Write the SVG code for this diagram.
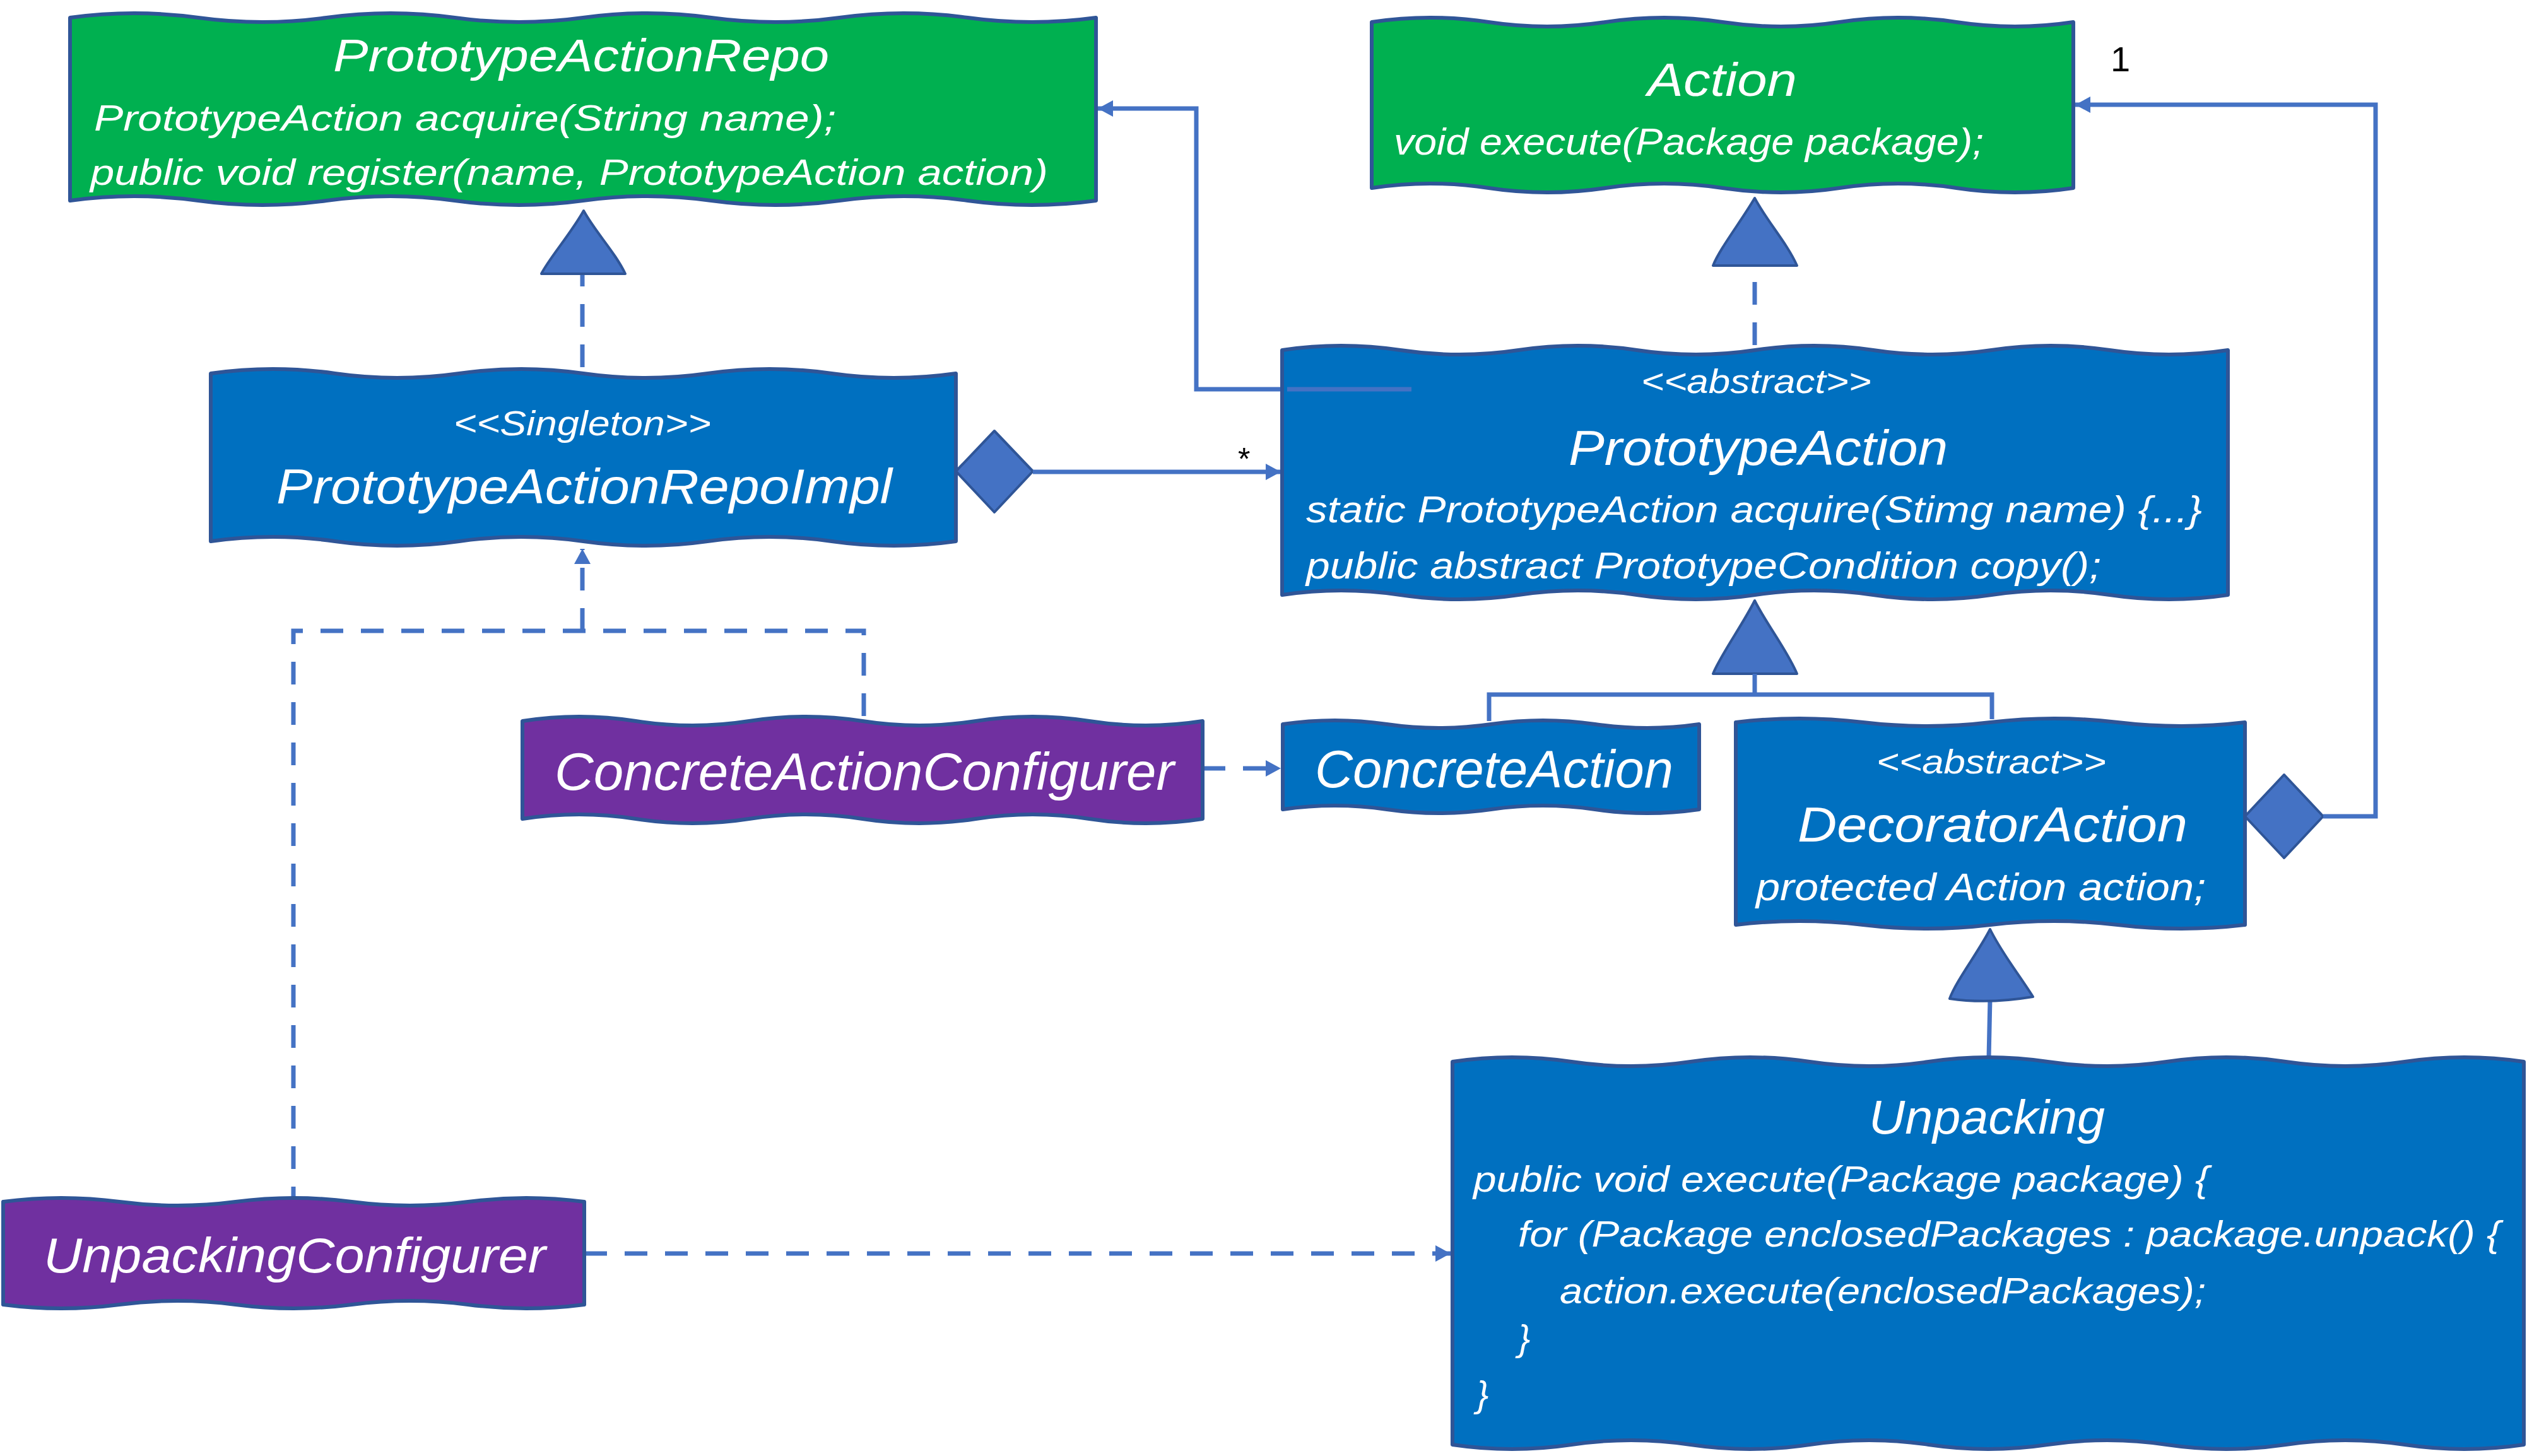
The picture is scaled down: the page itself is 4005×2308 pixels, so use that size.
<svg xmlns="http://www.w3.org/2000/svg" width="4005" height="2308" viewBox="0 0 4005 2308">
<style>
.box{stroke:#2F5597;stroke-width:6;stroke-linejoin:round}
.g{fill:#00B050}.b{fill:#0070C0}.p{fill:#7030A0}
.t{fill:#fff;font-family:"Liberation Sans",Arial,sans-serif;font-style:italic}
.lbl{fill:#000;font-family:"Liberation Sans",Arial,sans-serif}
.ln{fill:none;stroke:#4472C4;stroke-width:7}
.dash{stroke-dasharray:36 28}
.head{fill:#4472C4;stroke:#2F5597;stroke-width:4;stroke-linejoin:round}
</style>
<defs>
<marker id="arr" markerUnits="userSpaceOnUse" markerWidth="26" markerHeight="28" refX="24" refY="14" orient="auto">
<path d="M0,1 L24,14 L0,27 Z" fill="#4472C4"/>
</marker>
</defs>
<g id="connectors">
<path class="ln" d="M2237 617 L1896 617 L1896 172 L1740 172" marker-end="url(#arr)"/>
<path class="ln dash" d="M923 582 L923 434"/>
<path class="head" d="M925 334 C905 370 870 410 858 434 L991 434 C975 400 945 370 925 334 Z"/>
<polygon class="head" points="1515,747 1576,683 1637,747 1576,812"/>
<path class="ln" d="M1637 748 L2030 748" marker-end="url(#arr)"/>
<text class="lbl" x="1962" y="745" font-size="50">*</text>
<path class="ln dash" d="M2781 547 L2781 421"/>
<path class="head" d="M2781 314 C2760 350 2725 395 2715 421 L2848 421 C2832 385 2800 350 2781 314 Z"/>
<path class="head" d="M2781 952 C2762 990 2726 1040 2715 1068 L2848 1068 C2832 1030 2800 990 2781 952 Z"/>
<path class="ln" d="M2781 1068 L2781 1101 M2360 1143 L2360 1101 L3157 1101 L3157 1140"/>
<polygon class="head" points="3558,1294 3620,1228 3682,1294 3620,1360"/>
<path class="ln" d="M3682 1294 L3765 1294 L3765 166 L3289 166" marker-end="url(#arr)"/>
<text class="lbl" x="3345" y="113" font-size="56">1</text>
<path class="ln dash" d="M1906 1218 L2030 1218" stroke-dasharray="30 20" stroke-width="9" marker-end="url(#arr)"/>
<path class="ln dash" d="M1369 1135 L1369 1000 L465 1000 L465 1900"/>
<path class="ln dash" d="M923 1000 L923 870" marker-end="url(#arr)"/>
<path class="ln dash" d="M926 1987 L2299 1987" stroke-dasharray="34 30" stroke-width="9" marker-end="url(#arr)"/>
<path class="ln" d="M3152 1677 L3154 1583"/>
<path class="head" d="M3154 1473 C3135 1510 3100 1555 3090 1583 Q3150 1592 3222 1580 C3200 1545 3172 1510 3154 1473 Z"/>
</g>
<g id="node-repo">
<path class="box g" d="M111 28 q101.6 -14 203.25 0 t203.25 0 t203.25 0 t203.25 0 t203.25 0 t203.25 0 t203.25 0 t203.25 0 L1737 318 q-101.6 14 -203.25 0 t-203.25 0 t-203.25 0 t-203.25 0 t-203.25 0 t-203.25 0 t-203.25 0 t-203.25 0 Z"/>
<text class="t" x="528" y="113" font-size="72" textLength="786" lengthAdjust="spacingAndGlyphs">PrototypeActionRepo</text>
<text class="t" x="149" y="207" font-size="58" textLength="1176" lengthAdjust="spacingAndGlyphs">PrototypeAction acquire(String name);</text>
<text class="t" x="143" y="293" font-size="58" textLength="1518" lengthAdjust="spacingAndGlyphs">public void register(name, PrototypeAction action)</text>
</g>
<g id="node-action">
<path class="box g" d="M2174 35 q92.67 -14 185.33 0 t185.33 0 t185.33 0 t185.33 0 t185.33 0 t185.33 0 L3286 298 q-92.67 14 -185.33 0 t-185.33 0 t-185.33 0 t-185.33 0 t-185.33 0 t-185.33 0 Z"/>
<text class="t" x="2611" y="152" font-size="74" textLength="237" lengthAdjust="spacingAndGlyphs">Action</text>
<text class="t" x="2209" y="245" font-size="60" textLength="935" lengthAdjust="spacingAndGlyphs">void execute(Package package);</text>
</g>
<g id="node-repoimpl">
<path class="box b" d="M334 592 q98.4 -14 196.83 0 t196.83 0 t196.83 0 t196.83 0 t196.83 0 t196.83 0 L1515 858 q-98.4 14 -196.83 0 t-196.83 0 t-196.83 0 t-196.83 0 t-196.83 0 t-196.83 0 Z"/>
<text class="t" x="719" y="690" font-size="56" textLength="408" lengthAdjust="spacingAndGlyphs">&lt;&lt;Singleton&gt;&gt;</text>
<text class="t" x="438" y="798" font-size="78" textLength="976" lengthAdjust="spacingAndGlyphs">PrototypeActionRepoImpl</text>
</g>
<g id="node-prototypeaction">
<path class="box b" d="M2032 555 q93.7 -14 187.375 0 t187.375 0 t187.375 0 t187.375 0 t187.375 0 t187.375 0 t187.375 0 t187.375 0 L3531 943 q-93.7 14 -187.375 0 t-187.375 0 t-187.375 0 t-187.375 0 t-187.375 0 t-187.375 0 t-187.375 0 t-187.375 0 Z"/>
<text class="t" x="2601" y="623" font-size="54" textLength="365" lengthAdjust="spacingAndGlyphs">&lt;&lt;abstract&gt;&gt;</text>
<text class="t" x="2486" y="737" font-size="78" textLength="601" lengthAdjust="spacingAndGlyphs">PrototypeAction</text>
<text class="t" x="2070" y="828" font-size="60" textLength="1420" lengthAdjust="spacingAndGlyphs">static PrototypeAction acquire(Stimg name) {...}</text>
<text class="t" x="2070" y="917" font-size="60" textLength="1260" lengthAdjust="spacingAndGlyphs">public abstract PrototypeCondition copy();</text>
</g>
<path class="ln" d="M2040 617 L2237 617"/>
<g id="node-concreteactionconfigurer">
<path class="box p" d="M828 1143 q89.8 -14 179.67 0 t179.67 0 t179.67 0 t179.67 0 t179.67 0 t179.67 0 L1906 1298 q-89.8 14 -179.67 0 t-179.67 0 t-179.67 0 t-179.67 0 t-179.67 0 t-179.67 0 Z"/>
<text class="t" x="879" y="1252" font-size="84" textLength="982" lengthAdjust="spacingAndGlyphs">ConcreteActionConfigurer</text>
</g>
<g id="node-concreteaction">
<path class="box b" d="M2033 1148 q82.5 -12 165 0 t165 0 t165 0 t165 0 L2693 1283 q-82.5 12 -165 0 t-165 0 t-165 0 t-165 0 Z"/>
<text class="t" x="2084" y="1248" font-size="84" textLength="568" lengthAdjust="spacingAndGlyphs">ConcreteAction</text>
</g>
<g id="node-decoratoraction">
<path class="box b" d="M2751 1145 q100.9 -12 201.75 0 t201.75 0 t201.75 0 t201.75 0 L3558 1466 q-100.9 12 -201.75 0 t-201.75 0 t-201.75 0 t-201.75 0 Z"/>
<text class="t" x="2974" y="1226" font-size="54" textLength="364" lengthAdjust="spacingAndGlyphs">&lt;&lt;abstract&gt;&gt;</text>
<text class="t" x="2849" y="1334" font-size="78" textLength="618" lengthAdjust="spacingAndGlyphs">DecoratorAction</text>
<text class="t" x="2783" y="1427" font-size="62" textLength="713" lengthAdjust="spacingAndGlyphs">protected Action action;</text>
</g>
<g id="node-unpackingconfigurer">
<path class="box p" d="M5 1905 q92.1 -12 184.2 0 t184.2 0 t184.2 0 t184.2 0 t184.2 0 L926 2068 q-92.1 12 -184.2 0 t-184.2 0 t-184.2 0 t-184.2 0 t-184.2 0 Z"/>
<text class="t" x="69" y="2017" font-size="78" textLength="796" lengthAdjust="spacingAndGlyphs">UnpackingConfigurer</text>
</g>
<g id="node-unpacking">
<path class="box b" d="M2302 1683 q94.3 -14 188.67 0 t188.67 0 t188.67 0 t188.67 0 t188.67 0 t188.67 0 t188.67 0 t188.67 0 t188.67 0 L4000 2290 q-94.3 14 -188.67 0 t-188.67 0 t-188.67 0 t-188.67 0 t-188.67 0 t-188.67 0 t-188.67 0 t-188.67 0 t-188.67 0 Z"/>
<text class="t" x="2962" y="1797" font-size="76" textLength="374" lengthAdjust="spacingAndGlyphs">Unpacking</text>
<text class="t" x="2335" y="1889" font-size="58" textLength="1166" lengthAdjust="spacingAndGlyphs">public void execute(Package package) {</text>
<text class="t" x="2406" y="1976" font-size="58" textLength="1557" lengthAdjust="spacingAndGlyphs">for (Package enclosedPackages : package.unpack() {</text>
<text class="t" x="2472" y="2066" font-size="58" textLength="1024" lengthAdjust="spacingAndGlyphs">action.execute(enclosedPackages);</text>
<text class="t" x="2406" y="2141" font-size="58">}</text>
<text class="t" x="2340" y="2230" font-size="58">}</text>
</g>
</svg>
